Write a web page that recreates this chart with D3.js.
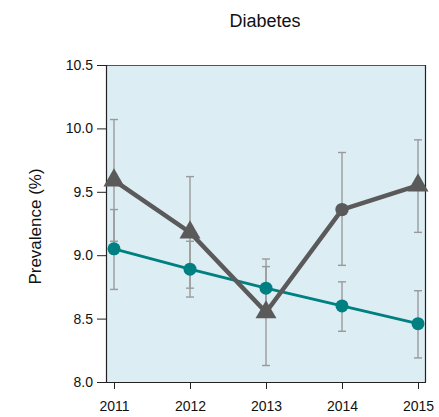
<!DOCTYPE html>
<html>
<head>
<meta charset="utf-8">
<script src="https://cdn.jsdelivr.net/npm/d3@7/dist/d3.min.js"></script>
<style>
  html, body { margin: 0; padding: 0; background: #ffffff; }
  svg { display: block; font-family: "Liberation Sans", Arial, sans-serif; }
</style>
</head>
<body>
<svg id="chart" width="439" height="417"></svg>
<script>
// Diabetes prevalence by year, two groups with 95% confidence intervals
const years = [2011, 2012, 2013, 2014, 2015];

const tealValues = [9.05, 8.89, 8.74, 8.60, 8.46];
const tealLower  = [8.73, 8.67, 8.57, 8.40, 8.19];
const tealUpper  = [9.36, 9.11, 8.91, 8.79, 8.72];

const grayValues = [9.59, 9.18, 8.55, 9.36, 9.55];
const grayLower  = [9.11, 8.74, 8.13, 8.92, 9.18];
const grayUpper  = [10.07, 9.62, 8.97, 9.81, 9.91];
const grayShapes = ["triangle", "triangle", "triangle", "circle", "triangle"];

const yTicks = [8.0, 8.5, 9.0, 9.5, 10.0, 10.5];

const margin = { top: 65, right: 13, bottom: 35, left: 106 };
const width = 439, height = 417;
const innerW = width - margin.left - margin.right;
const innerH = height - margin.top - margin.bottom;

const svg = d3.select("#chart");

const pad = 8 / 76;
const x = d3.scaleLinear()
  .domain([years[0] - pad, years[years.length - 1] + pad])
  .range([margin.left, margin.left + innerW]);
const y = d3.scaleLinear()
  .domain([8.0, 10.5])
  .range([margin.top + innerH, margin.top]);

// panel background
svg.append("rect")
  .attr("x", margin.left).attr("y", margin.top)
  .attr("width", innerW).attr("height", innerH)
  .attr("fill", "#dcedf3");

// panel frame (top and right)
svg.append("line")
  .attr("x1", margin.left).attr("x2", margin.left + innerW)
  .attr("y1", margin.top + 0.5).attr("y2", margin.top + 0.5)
  .attr("stroke", "#555").attr("stroke-width", 1);
svg.append("line")
  .attr("x1", margin.left + innerW - 0.5).attr("x2", margin.left + innerW - 0.5)
  .attr("y1", margin.top).attr("y2", margin.top + innerH)
  .attr("stroke", "#222").attr("stroke-width", 1.2);

// axes
const yAxis = d3.axisLeft(y).tickValues(yTicks).tickFormat(d3.format(".1f")).tickSizeOuter(0).tickSize(9).tickPadding(4);
const xAxis = d3.axisBottom(x).tickValues(years).tickFormat(d3.format("d")).tickSizeOuter(0).tickSize(7).tickPadding(12);

const gy = svg.append("g").attr("transform", `translate(${margin.left},0)`).call(yAxis);
const gx = svg.append("g").attr("transform", `translate(0,${margin.top + innerH})`).call(xAxis);

[gy, gx].forEach(g => {
  g.select(".domain").attr("stroke", "#222").attr("stroke-width", 1.2);
  g.selectAll(".tick line").attr("stroke", "#222");
  g.selectAll(".tick text").attr("fill", "#111").style("font-size", "14px");
});
gy.select(".domain").attr("d", `M0.5,${margin.top}V${margin.top + innerH + 0.5}`);
gx.select(".domain").attr("d", `M${margin.left - 9},0.5H${margin.left + innerW}`);

// title and axis label
svg.append("text")
  .attr("x", margin.left + innerW / 2 - 1).attr("y", 27)
  .attr("text-anchor", "middle")
  .style("font-size", "18px").attr("fill", "#111")
  .text("Diabetes");
svg.append("text")
  .attr("transform", `translate(41,${margin.top + innerH / 2 + 3}) rotate(-90)`)
  .attr("text-anchor", "middle")
  .style("font-size", "17px").attr("fill", "#111")
  .text("Prevalence (%)");

// error bars
function errorBars(lower, upper) {
  const g = svg.append("g").attr("stroke", "#9a9a9a").attr("stroke-width", 1.4).attr("fill", "none");
  years.forEach((yr, i) => {
    const cx = x(yr);
    g.append("line").attr("x1", cx).attr("x2", cx).attr("y1", y(lower[i])).attr("y2", y(upper[i]));
    [lower[i], upper[i]].forEach(v => {
      g.append("line").attr("x1", cx - 4).attr("x2", cx + 4).attr("y1", y(v)).attr("y2", y(v));
    });
  });
}
errorBars(tealLower, tealUpper);
errorBars(grayLower, grayUpper);

const line = d3.line().x((d, i) => x(years[i])).y(d => y(d));

// teal series
svg.append("path").datum(tealValues)
  .attr("d", line).attr("fill", "none")
  .attr("stroke", "#008080").attr("stroke-width", 2.8);
svg.append("g").selectAll("circle").data(tealValues).join("circle")
  .attr("cx", (d, i) => x(years[i])).attr("cy", d => y(d))
  .attr("r", 6.5).attr("fill", "#008080");

// gray series
svg.append("path").datum(grayValues)
  .attr("d", line).attr("fill", "none")
  .attr("stroke", "#5a5a5a").attr("stroke-width", 4.5);
const tri = d3.symbol().type(d3.symbolTriangle).size(190);
const circ = d3.symbol().type(d3.symbolCircle).size(140);
svg.append("g").selectAll("path").data(grayValues).join("path")
  .attr("transform", (d, i) => `translate(${x(years[i])},${y(d)})`)
  .attr("d", (d, i) => grayShapes[i] === "triangle" ? tri() : circ())
  .attr("fill", "#5a5a5a");
</script>
</body>
</html>
